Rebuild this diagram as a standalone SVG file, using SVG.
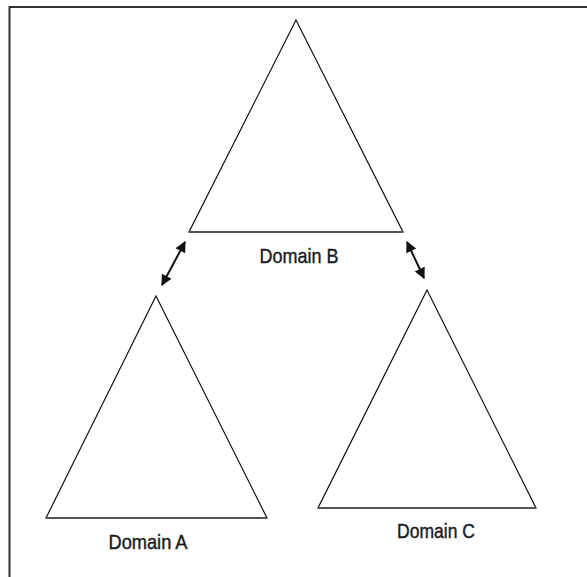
<svg xmlns="http://www.w3.org/2000/svg" width="587" height="577" viewBox="0 0 587 577">
<defs>
<style>
.frame{stroke:#333;stroke-width:2;fill:none}
.tri{fill:#fff;stroke:#111;stroke-width:1.2;stroke-linejoin:miter}
.base{stroke:#555;stroke-width:2}
.lbl{font-family:"Liberation Sans",Arial,sans-serif;font-size:21px;fill:#1a1a1a;stroke:#1a1a1a;stroke-width:0.4;text-anchor:middle}
.conn{stroke:#111;stroke-width:2;fill:none}
</style>
<marker id="ah" viewBox="0 0 10 10" refX="9" refY="5" markerWidth="6.5" markerHeight="5.5" orient="auto-start-reverse" markerUnits="strokeWidth">
<path d="M0,0 L10,5 L0,10 z" fill="#111"/>
</marker>
</defs>
<rect width="587" height="577" fill="#fff"/>
<path class="frame" d="M9.5,577 L9.5,7 L587,7"/>
<g id="domainB">
<polygon class="tri" points="296,20 189,232 403,232"/>
<line class="base" x1="189" y1="232" x2="403" y2="232"/>
<text class="lbl" x="299" y="263" textLength="79" lengthAdjust="spacingAndGlyphs">Domain B</text>
</g>
<g id="domainA">
<polygon class="tri" points="156,296 46,518 267,518"/>
<line class="base" x1="46" y1="518" x2="267" y2="518"/>
<text class="lbl" x="148" y="549" textLength="79" lengthAdjust="spacingAndGlyphs">Domain A</text>
</g>
<g id="domainC">
<polygon class="tri" points="427,290 318,508 536,508"/>
<line class="base" x1="318" y1="508" x2="536" y2="508"/>
<text class="lbl" x="436" y="538" textLength="78" lengthAdjust="spacingAndGlyphs">Domain C</text>
</g>
<g id="connectors">
<line class="conn" x1="185" y1="242" x2="162" y2="285" marker-start="url(#ah)" marker-end="url(#ah)"/>
<line class="conn" x1="407" y1="242" x2="424" y2="278" marker-start="url(#ah)" marker-end="url(#ah)"/>
</g>
</svg>
